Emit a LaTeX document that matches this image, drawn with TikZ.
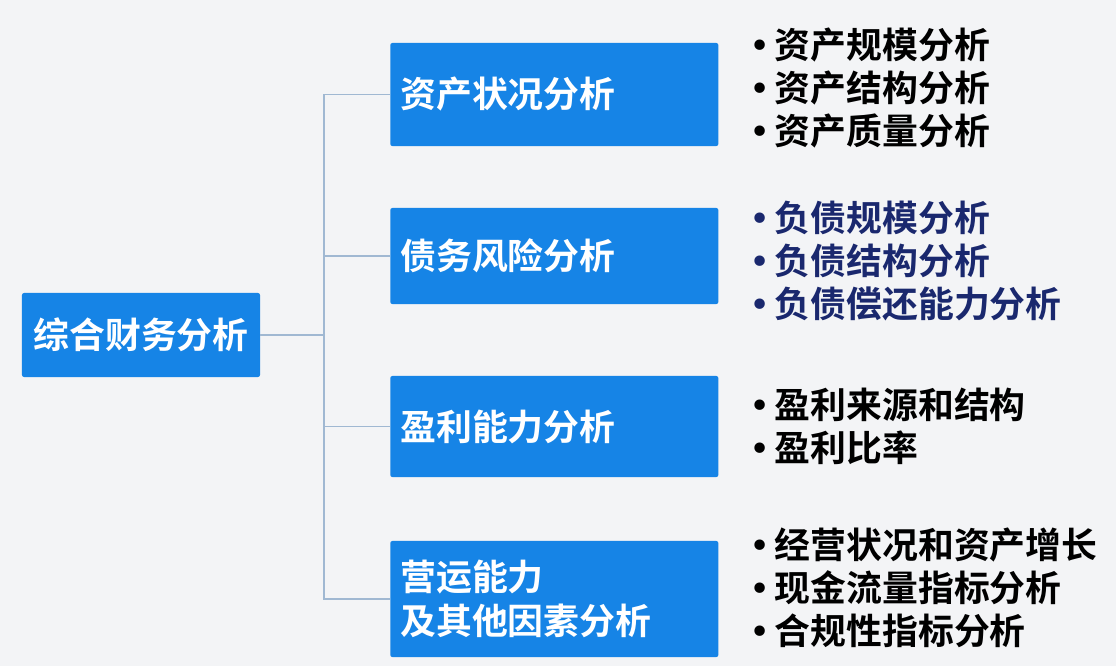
\documentclass[tikz,border=0pt]{standalone}
\usepackage{fontspec}
\setmainfont{Noto Sans CJK SC}[BoldFont={Noto Sans CJK SC Bold}]
\newfontfamily\dotfont{DejaVu Sans}
\usepackage{tikz}
\usetikzlibrary{positioning}
\definecolor{boxblue}{RGB}{22,132,230}
\definecolor{linkblue}{RGB}{160,184,210}
\definecolor{navytext}{RGB}{26,40,110}
\definecolor{pagebg}{RGB}{243,244,246}
\newcommand{\itemdot}{{\dotfont\mdseries •}\kern0.12em}
\tikzset{
    rootbox/.style={rectangle,rounded corners=1.5pt,fill=boxblue,text=white,font=\fontsize{25.5}{30}\selectfont\bfseries,
        minimum width=5.95cm,minimum height=2.1cm,inner sep=0pt},
    topicbox/.style={rectangle,rounded corners=1.5pt,fill=boxblue,text=white,font=\fontsize{25.5}{31}\selectfont\bfseries,
        text width=7.7cm,inner xsep=0.25cm,inner ysep=0pt,align=left,anchor=west},
    itemlist/.style={font=\fontsize{25.5}{30.8}\selectfont\bfseries,align=left,anchor=west,inner sep=0pt},
    link/.style={draw=linkblue,line width=1.1pt}
}

\begin{document}
\begin{tikzpicture}[x=0.025cm,y=-0.025cm]
  % 背景
            \fill[pagebg] (0,0) rectangle (1116,666);
            \useasboundingbox (0,0) rectangle (1116,666);

  %---------------- 根节点 ----------------
            \node[rootbox] (root) at (141,335) {综合财务分析};

  %---------------- 四个分析方向 ----------------
            \node[topicbox,minimum height=2.575cm] (asset) at (390,94.5) {资产状况分析};
            \node[topicbox,minimum height=2.4cm] (debt) at (390,256) {债务风险分析};
            \node[topicbox,minimum height=2.525cm] (profit) at (390,426.5) {盈利能力分析};
            \node[topicbox,minimum height=2.9cm] (operate) at (390,599) {营运能力\\及其他因素分析};

  %---------------- 连线 ----------------
            \coordinate (trunk) at (324,335);
            \draw[link] (root.east) -- (trunk);
            \foreach \B in {asset,debt,profit,operate}{
                \draw[link] (trunk) |- (\B.west);
            }

  %---------------- 具体内容 ----------------
            \node[itemlist] (assetitems) at (749,88) {\itemdot 资产规模分析\\\itemdot 资产结构分析\\\itemdot 资产质量分析};
            \node[itemlist,text=navytext] (debtitems) at (749,261) {\itemdot 负债规模分析\\\itemdot 负债结构分析\\\itemdot 负债偿还能力分析};
            \node[itemlist] (profititems) at (749,426) {\itemdot 盈利来源和结构\\\itemdot 盈利比率};
            \node[itemlist] (operateitems) at (749,588) {\itemdot 经营状况和资产增长\\\itemdot 现金流量指标分析\\\itemdot 合规性指标分析};

        \end{tikzpicture}
\end{document}
